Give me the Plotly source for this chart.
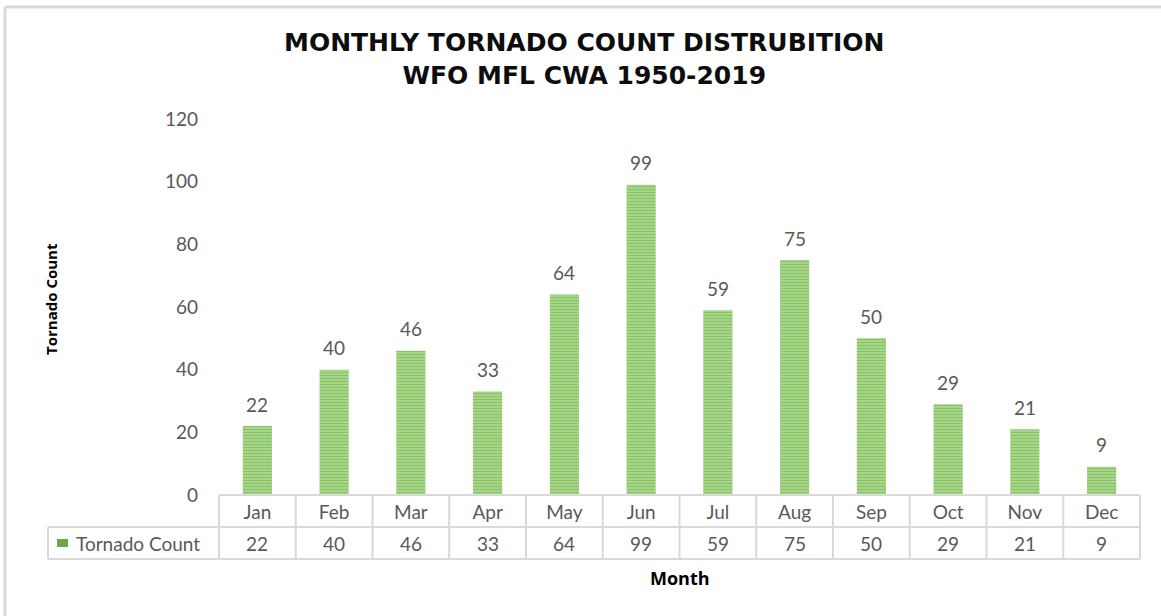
import plotly.graph_objects as go

months = ["Jan", "Feb", "Mar", "Apr", "May", "Jun", "Jul", "Aug", "Sep", "Oct", "Nov", "Dec"]
counts = [22, 40, 46, 33, 64, 99, 59, 75, 50, 29, 21, 9]
y_ticks = [0, 20, 40, 60, 80, 100, 120]
series_name = "Tornado Count"

GRAY = "#595959"
GRID = "#d9d9d9"
GREEN = "#6aa944"
LIGHT = "#addb8f"
FONT = "Lato, 'Open Sans', sans-serif"

W, H = 1161, 616
ml, mr, mt, mb = 219, 21, 119, 121
ph = H - mt - mb
pw = W - ml - mr

def py(px_below):
    # pixels below the plot bottom -> paper coordinates
    return -px_below / ph

def px(pixel_x):
    return (pixel_x - ml) / pw

def pyabs(pixel_y):
    return 1 - (pixel_y - mt) / ph

fig = go.Figure()
fig.add_trace(go.Bar(
    x=months, y=counts, name=series_name,
    marker=dict(color=LIGHT,
                pattern=dict(shape="-", fgcolor=GREEN, bgcolor=LIGHT, size=3, solidity=0.5),
                line=dict(width=0)),
    cliponaxis=False,
))

shapes = []
n = len(months)
row1_bottom = py(32)
row2_bottom = py(64)
shapes.append(dict(type="line", xref="paper", yref="paper", x0=0, x1=1, y0=0, y1=0,
                   line=dict(color=GRID, width=2)))
shapes.append(dict(type="line", xref="paper", yref="paper", x0=px(48), x1=1, y0=row1_bottom, y1=row1_bottom,
                   line=dict(color=GRID, width=2)))
shapes.append(dict(type="line", xref="paper", yref="paper", x0=px(48), x1=1, y0=row2_bottom, y1=row2_bottom,
                   line=dict(color=GRID, width=2)))
for k in range(n + 1):
    shapes.append(dict(type="line", xref="paper", yref="paper", x0=k / n, x1=k / n, y0=0, y1=row2_bottom,
                       line=dict(color=GRID, width=2)))
shapes.append(dict(type="line", xref="paper", yref="paper", x0=px(48), x1=px(48), y0=row1_bottom, y1=row2_bottom,
                   line=dict(color=GRID, width=2)))
# legend key
shapes.append(dict(type="rect", xref="paper", yref="paper", x0=px(57), x1=px(68), y0=py(44), y1=py(52),
                   fillcolor=GREEN, line=dict(width=0)))
# chart frame
shapes.append(dict(type="line", xref="paper", yref="paper", x0=px(5), x1=px(1165), y0=pyabs(7), y1=pyabs(7),
                   line=dict(color=GRID, width=3)))
shapes.append(dict(type="line", xref="paper", yref="paper", x0=px(5), x1=px(5), y0=pyabs(7), y1=pyabs(620),
                   line=dict(color=GRID, width=3)))

annotations = []
for m, v in zip(months, counts):
    annotations.append(dict(x=m, y=v, xref="x", yref="y", text=str(v), showarrow=False,
                            yshift=22, xanchor="center", yanchor="middle",
                            font=dict(family=FONT, size=19, color=GRAY)))
for i, v in enumerate(counts):
    annotations.append(dict(x=(i + 0.5) / n, y=py(48), xref="paper", yref="paper", text=str(v),
                            showarrow=False, font=dict(family=FONT, size=19, color=GRAY),
                            xanchor="center", yanchor="middle"))
annotations.append(dict(x=px(74), y=py(48), xref="paper", yref="paper", text=series_name,
                        showarrow=False, font=dict(family=FONT, size=19, color=GRAY),
                        xanchor="left", yanchor="middle"))
annotations.append(dict(x=0.5, y=pyabs(578), xref="paper", yref="paper", text="<b>Month</b>",
                        showarrow=False, font=dict(family="'Open Sans', sans-serif", size=18, color="black"),
                        xanchor="center", yanchor="middle"))
annotations.append(dict(x=px(51), y=pyabs(299), xref="paper", yref="paper",
                        text="<b>Tornado Count</b>", textangle=-90,
                        showarrow=False, font=dict(family="'Open Sans', sans-serif", size=15, color="black"),
                        xanchor="center", yanchor="middle"))
annotations.append(dict(x=px(584), y=pyabs(59), xref="paper", yref="paper",
                        text="<b>MONTHLY TORNADO COUNT DISTRUBITION<br>WFO MFL CWA 1950-2019</b>",
                        showarrow=False, align="center",
                        font=dict(family="'DejaVu Sans', sans-serif", size=25, color="#0d0d0d"),
                        xanchor="center", yanchor="middle"))

fig.update_layout(
    width=W, height=H,
    margin=dict(l=ml, r=mr, t=mt, b=mb, pad=0),
    paper_bgcolor="white", plot_bgcolor="white",
    showlegend=False,
    bargap=0.62,
    shapes=shapes,
    annotations=annotations,
    xaxis=dict(type="category", showline=False, showgrid=False, ticks="",
               tickfont=dict(family=FONT, size=19, color=GRAY),
               ticklabelstandoff=4, zeroline=False),
    yaxis=dict(range=[0, 120], tickvals=y_ticks, showgrid=False, zeroline=False, showline=False,
               ticks="", tickfont=dict(family=FONT, size=19, color=GRAY),
               ticklabelstandoff=20),
)

fig.write_html("out.html", config={"displayModeBar": False},
               post_script="document.body.style.margin='0';document.body.style.overflow='hidden';")
